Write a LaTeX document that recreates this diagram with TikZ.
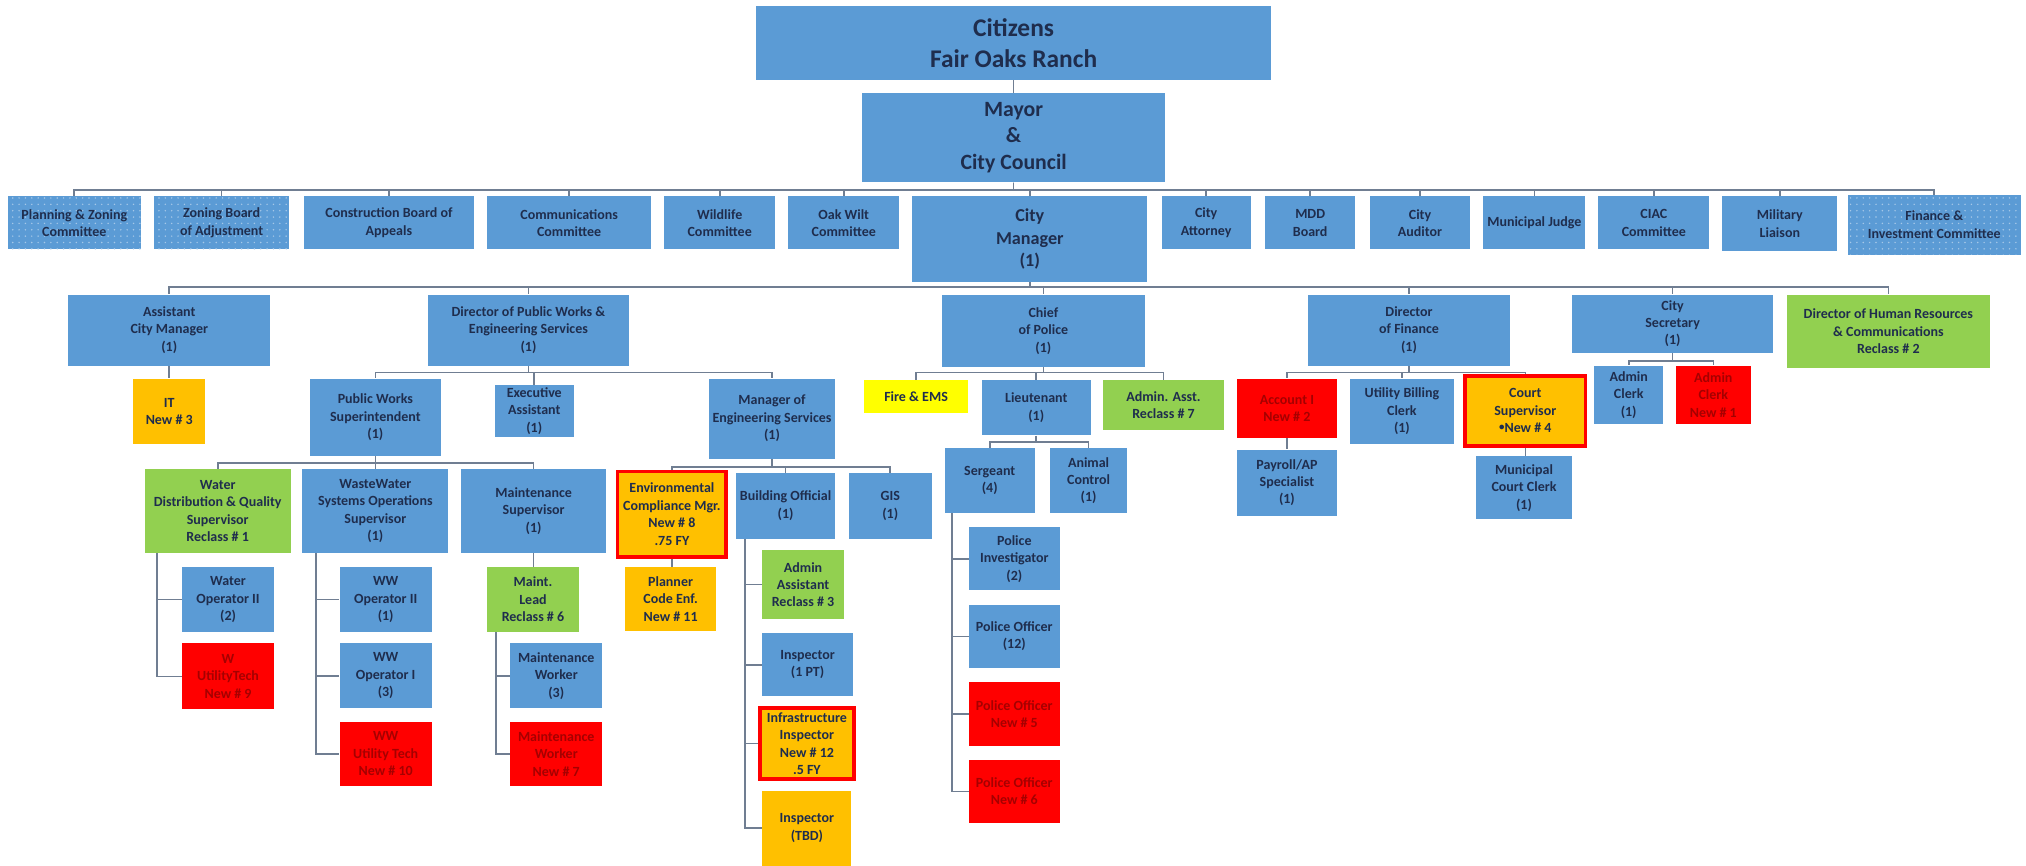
\documentclass[tikz,border=0pt]{standalone}
\usepackage{fontspec}
\setmainfont{Carlito}
\usepackage{tikz}
\usetikzlibrary{calc,patterns.meta}

\definecolor{orgblue}{RGB}{91,155,213}
\definecolor{orggreen}{RGB}{146,208,80}
\definecolor{orgorange}{RGB}{255,192,0}
\definecolor{orgred}{RGB}{255,0,0}
\definecolor{orgyellow}{RGB}{255,255,0}
\definecolor{orgtext}{RGB}{31,45,77}
\definecolor{redtext}{RGB}{165,0,0}
\definecolor{linkgray}{RGB}{112,126,146}

\begin{document}
\begin{tikzpicture}[x=0.025cm,y=-0.025cm,
  spanbox/.style n args={4}{minimum width={(#3-#1)*0.025cm}, minimum height={(#4-#2)*0.025cm}, at={({(#1+#3)/2},{(#2+#4)/2})}},
  box/.style={inner sep=0pt, align=center, text=orgtext, font=\bfseries\fontsize{7.7}{9.6}\selectfont},
  bluebox/.style={box, fill=orgblue},
  greenbox/.style={box, fill=orggreen},
  orangebox/.style={box, fill=orgorange},
  yellowbox/.style={box, fill=orgyellow},
  redbox/.style={box, fill=orgred, text=redtext},
  newbox/.style={box, fill=orgorange, draw=orgred, line width=2pt},
  dotbox/.style={bluebox, postaction={pattern={Dots[distance=3.5pt,radius=0.45pt]}, pattern color=white!45!orgblue}},
  link/.style={draw=linkgray, line width=0.9pt}]

\useasboundingbox (0,0) rectangle (1568,670);

\node[bluebox, font=\bfseries\fontsize{14}{17}\selectfont, spanbox={585}{5}{984}{62}] (cit) {Citizens\\Fair Oaks Ranch};
\node[bluebox, font=\bfseries\fontsize{12}{14.6}\selectfont, spanbox={667}{72}{902}{141}] (mayor) {Mayor\\\&\\City Council};

\node[dotbox, spanbox={6}{152}{109}{193}] (plan) {Planning \& Zoning\\Committee};
\node[dotbox, spanbox={119}{152}{224}{193}] (zba) {Zoning Board\\of Adjustment};
\node[bluebox, spanbox={235}{152}{367}{193}] (cba) {Construction Board of\\Appeals};
\node[bluebox, spanbox={377}{152}{504}{193}] (comm) {Communications\\Committee};
\node[bluebox, spanbox={514}{152}{600}{193}] (wild) {Wildlife\\Committee};
\node[bluebox, spanbox={610}{152}{696}{193}] (oak) {Oak Wilt\\Committee};
\node[bluebox, font=\bfseries\fontsize{10}{12.4}\selectfont, spanbox={706}{152}{888}{218}] (cm) {City\\Manager\\(1)};
\node[bluebox, spanbox={899}{152}{968}{193}] (atty) {City\\Attorney};
\node[bluebox, spanbox={979}{152}{1049}{193}] (mdd) {MDD\\Board};
\node[bluebox, spanbox={1060}{152}{1138}{193}] (aud) {City\\Auditor};
\node[bluebox, spanbox={1148}{152}{1227}{193}] (judge) {Municipal Judge};
\node[bluebox, spanbox={1237}{152}{1323}{193}] (ciac) {CIAC\\Committee};
\node[bluebox, spanbox={1333}{152}{1422}{194}] (mil) {Military\\Liaison};
\node[dotbox, spanbox={1430}{151}{1564}{197}] (finc) {Finance \&\\Investment Committee};

\node[bluebox, spanbox={53}{228}{209}{283}] (acm) {Assistant\\City Manager\\(1)};
\node[bluebox, spanbox={331}{228}{487}{283}] (dpw) {Director of Public Works \&\\Engineering Services\\(1)};
\node[bluebox, spanbox={729}{228}{886}{284}] (chief) {Chief\\of Police\\(1)};
\node[bluebox, spanbox={1012}{228}{1169}{283}] (dfin) {Director\\of Finance\\(1)};
\node[bluebox, spanbox={1217}{228}{1372}{273}] (csec) {City\\Secretary\\(1)};
\node[greenbox, spanbox={1383}{228}{1540}{285}] (hr) {Director of Human Resources\\\& Communications\\Reclass \# 2};

\node[orangebox, spanbox={103}{293}{159}{344}] (it) {IT\\New \# 3};
\node[bluebox, spanbox={240}{293}{341}{353}] (pws) {Public Works\\Superintendent\\(1)};
\node[bluebox, spanbox={383}{298}{444}{338}] (ea) {Executive\\Assistant\\(1)};
\node[bluebox, spanbox={549}{293}{646}{355}] (mes) {Manager of\\Engineering Services\\(1)};
\node[yellowbox, spanbox={669}{294}{749}{320}] (fire) {Fire \& EMS};
\node[bluebox, spanbox={760}{294}{844}{337}] (lt) {Lieutenant\\(1)};
\node[greenbox, spanbox={854}{294}{947}{333}] (aa7) {Admin. Asst.\\Reclass \# 7};
\node[redbox, spanbox={957}{293}{1035}{339}] (acct) {Account I\\New \# 2};
\node[bluebox, spanbox={1045}{293}{1125}{344}] (ubc) {Utility Billing\\Clerk\\(1)};
\node[newbox, spanbox={1134}{291}{1227}{345}] (court) {Court\\Supervisor\\\raisebox{0.35ex}{\fontsize{6}{6}\selectfont•}New \#  4};
\node[bluebox, spanbox={1234}{283}{1287}{328}] (ac1) {Admin\\Clerk\\(1)};
\node[redbox, spanbox={1297}{283}{1355}{328}] (acn) {Admin\\Clerk\\New \# 1};

\node[greenbox, spanbox={112}{363}{225}{428}] (wds) {Water\\Distribution \& Quality\\Supervisor\\Reclass \# 1};
\node[bluebox, spanbox={234}{363}{347}{428}] (wws) {WasteWater\\Systems Operations\\Supervisor\\(1)};
\node[bluebox, spanbox={357}{363}{469}{428}] (msup) {Maintenance\\Supervisor\\(1)};
\node[newbox, spanbox={478}{365}{562}{431}] (env) {Environmental\\Compliance Mgr.\\New \# 8\\.75 FY};
\node[bluebox, spanbox={570}{366}{646}{417}] (bo) {Building Official\\(1)};
\node[bluebox, spanbox={657}{366}{721}{417}] (gis) {GIS\\(1)};
\node[bluebox, spanbox={731}{347}{801}{397}] (sgt) {Sergeant\\(4)};
\node[bluebox, spanbox={813}{347}{872}{397}] (ac) {Animal\\Control\\(1)};
\node[bluebox, spanbox={957}{348}{1035}{399}] (pay) {Payroll/AP\\Specialist\\(1)};
\node[bluebox, spanbox={1142}{353}{1217}{402}] (mcc) {Municipal\\Court Clerk\\(1)};

\node[bluebox, spanbox={141}{439}{212}{489}] (wop) {Water\\Operator II\\(2)};
\node[redbox, spanbox={141}{498}{212}{549}] (wut) {W\\UtilityTech\\New \# 9};
\node[bluebox, spanbox={263}{439}{334}{489}] (wwop2) {WW\\Operator II\\(1)};
\node[bluebox, spanbox={263}{498}{334}{548}] (wwop1) {WW\\Operator I\\(3)};
\node[redbox, spanbox={263}{559}{334}{608}] (wwut) {WW\\Utility Tech\\New \# 10};
\node[greenbox, spanbox={377}{439}{448}{489}] (mlead) {Maint.\\Lead\\Reclass \# 6};
\node[bluebox, spanbox={395}{498}{466}{548}] (mw) {Maintenance\\Worker\\(3)};
\node[redbox, spanbox={395}{559}{466}{608}] (mwn) {Maintenance\\Worker\\New \#  7};
\node[orangebox, spanbox={484}{439}{554}{488}] (planner) {Planner\\Code Enf.\\New \# 11};
\node[greenbox, spanbox={590}{426}{653}{479}] (adm3) {Admin\\Assistant\\Reclass \# 3};
\node[bluebox, spanbox={590}{490}{660}{539}] (insp) {Inspector\\(1 PT)};
\node[newbox, spanbox={588}{548}{661}{603}] (infra) {Infrastructure\\Inspector\\New \# 12\\.5 FY};
\node[orangebox, spanbox={590}{612}{659}{670}] (tbd) {Inspector\\(TBD)};
\node[bluebox, spanbox={750}{408}{820}{457}] (pinv) {Police\\Investigator\\(2)};
\node[bluebox, spanbox={750}{468}{820}{517}] (po12) {Police Officer\\(12)};
\node[redbox, spanbox={750}{528}{820}{577}] (po5) {Police Officer\\New \# 5};
\node[redbox, spanbox={750}{588}{820}{637}] (po6) {Police Officer\\New \# 6};

\draw[link] (cit.south) -- (cit.south |- mayor.north);
\foreach \c in {plan,zba,cba,comm,wild,oak,cm,atty,mdd,aud,judge,ciac,mil,finc}
  \draw[link] (mayor.south) -- ++(0,6) -| (\c.north);
\foreach \c in {acm,dpw,chief,dfin,csec,hr}
  \draw[link] (cm.south) -- ++(0,4) -| (\c.north);

\draw[link] (acm.south) -- (acm.south |- it.north);
\foreach \c in {pws,ea,mes}
  \draw[link] (dpw.south) -- ++(0,5) -| (\c.north);
\foreach \c in {wds,wws,msup}
  \draw[link] (pws.south) -- ++(0,5) -| (\c.north);
\foreach \c in {env,bo,gis}
  \draw[link] (mes.south) -- ++(0,6) -| (\c.north);
\foreach \c in {fire,lt,aa7}
  \draw[link] (chief.south) -- ++(0,4) -| (\c.north);
\foreach \c in {sgt,ac}
  \draw[link] (lt.south) -- ++(0,5) -| (\c.north);
\foreach \c in {acct,ubc,court}
  \draw[link] (dfin.south) -- ++(0,5) -| (\c.north);
\foreach \c in {ac1,acn}
  \draw[link] (csec.south) -- ++(0,6) -| (\c.north);

\draw[link] (msup.south) -- (msup.south |- mlead.north);
\draw[link] (env.south) -- (env.south |- planner.north);
\draw[link] (acct.south) -- (acct.south |- pay.north);
\draw[link] (court.south) -- (court.south |- mcc.north);

\foreach \c in {wop,wut}
  \draw[link] ($(wds.south west)+(10,0)$) |- (\c.west);
\foreach \c in {wwop2,wwop1,wwut}
  \draw[link] ($(wws.south west)+(11,0)$) |- (\c.west);
\foreach \c in {mw,mwn}
  \draw[link] ($(mlead.south west)+(7,0)$) |- (\c.west);
\foreach \c in {adm3,insp,infra,tbd}
  \draw[link] ($(bo.south west)+(7,0)$) |- (\c.west);
\foreach \c in {pinv,po12,po5,po6}
  \draw[link] ($(sgt.south west)+(6,0)$) |- (\c.west);
\end{tikzpicture}
\end{document}
